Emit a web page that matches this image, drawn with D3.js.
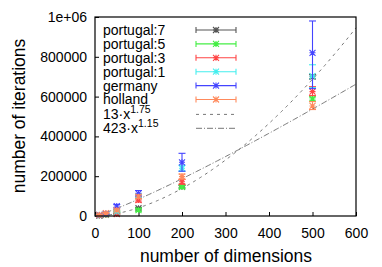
<!DOCTYPE html>
<html><head><meta charset="utf-8">
<script src="https://cdn.jsdelivr.net/npm/d3@7"></script>
<style>body{margin:0;background:#fff}svg{display:block}text{font-family:"Liberation Sans",Arial,sans-serif;fill:#000}</style>
</head><body><svg id="c" width="382" height="267"></svg>
<script>
const dims = [10, 25, 50, 100, 200, 500];
const seriesNames = ["portugal:7","portugal:5","portugal:3","portugal:1","germany","holland"];
const seriesColors = ["#555555","#44ee44","#ff4444","#44eeee","#4444ff","#ff8a5c"];
const p7Mean = [2000, 6000, 12000, 39000, 147000, 700000];
const p7Lo   = [1000, 4000, 9000, 35000, 141000, 690000];
const p7Hi   = [3000, 8000, 15000, 43000, 153000, 710000];
const p5Mean = [3000, 7000, 20000, 30000, 147000, 588000];
const p5Lo   = [2000, 5000, 16000, 24000, 140000, 578000];
const p5Hi   = [4000, 9000, 24000, 36000, 154000, 598000];
const p3Mean = [3000, 8000, 10000, 80000, 172000, 625000];
const p3Lo   = [2000, 6000, 6000, 70000, 160000, 605000];
const p3Hi   = [4000, 10000, 14000, 90000, 184000, 650000];
const p1Mean = [4000, 10000, 22000, 100000, 240000, 703000];
const p1Lo   = [2000, 6000, 18000, 92000, 225000, 645000];
const p1Hi   = [6000, 14000, 26000, 108000, 255000, 760000];
const deMean = [5000, 12000, 50000, 114000, 270000, 820000];
const deLo   = [3000, 9000, 42000, 100000, 225000, 640000];
const deHi   = [7000, 15000, 58000, 128000, 315000, 980000];
const nlMean = [6000, 15000, 30000, 97000, 198000, 553000];
const nlLo   = [4000, 12000, 25000, 88000, 185000, 535000];
const nlHi   = [8000, 18000, 35000, 106000, 211000, 575000];
const fitCoef = [13, 423];
const fitExp = [1.75, 1.15];
const fitCoefLabels = ["13", "423"];
const fitExpLabels = ["1.75", "1.15"];
const xTicks = [0,100,200,300,400,500,600];
const yTicks = [0,200000,400000,600000,800000,1000000];
const yTickLabels = ["0","200000","400000","600000","800000","1e+06"];

const means=[p7Mean,p5Mean,p3Mean,p1Mean,deMean,nlMean];
const los=[p7Lo,p5Lo,p3Lo,p1Lo,deLo,nlLo];
const his=[p7Hi,p5Hi,p3Hi,p1Hi,deHi,nlHi];

const L=95,R=356,T=17,B=216;
const svg=d3.select("#c");
const x=d3.scaleLinear().domain([0,600]).range([L,R]);
const y=d3.scaleLinear().domain([0,1000000]).range([B,T]);

const xa=svg.append("g").attr("transform",`translate(0,${B})`)
  .call(d3.axisBottom(x).tickValues(xTicks).tickSize(-4).tickPadding(10).tickFormat(d3.format("d")));
const ya=svg.append("g").attr("transform",`translate(${L},0)`)
  .call(d3.axisLeft(y).tickValues(yTicks).tickSize(-4).tickPadding(8).tickFormat((d,i)=>yTickLabels[i]));
[xa,ya].forEach(a=>{a.select(".domain").remove();a.selectAll("line").attr("stroke","#000");
  a.selectAll("text").attr("font-size",14).attr("fill","#111").attr("font-family","Liberation Sans, Arial, sans-serif");});
xa.selectAll("text").attr("dy","0.71em").attr("y",12);

const fitDash=["3,4","6,2,1,2"];
const xs=d3.range(0,601,3);
fitCoef.forEach((c,k)=>{
  svg.append("path").datum(xs)
    .attr("d",d3.line().x(d=>x(d)).y(d=>y(c*Math.pow(d,fitExp[k]))))
    .attr("fill","none").attr("stroke","#666").attr("stroke-width",0.9).attr("stroke-dasharray",fitDash[k]);
});

function marker(g,cx,cy,col){
  const s=3;
  g.append("path").attr("d",`M${cx-s},${cy}H${cx+s}M${cx},${cy-s}V${cy+s}M${cx-s},${cy-s}L${cx+s},${cy+s}M${cx-s},${cy+s}L${cx+s},${cy-s}`)
   .attr("stroke",col).attr("stroke-width",1.1).attr("fill","none");
}
seriesNames.forEach((n,k)=>{
  const g=svg.append("g");const col=seriesColors[k];
  dims.forEach((d,i)=>{
    const cx=x(d);
    g.append("line").attr("x1",cx).attr("x2",cx).attr("y1",y(los[k][i])).attr("y2",y(his[k][i])).attr("stroke",col).attr("stroke-width",1.1);
    [los[k][i],his[k][i]].forEach(v=>g.append("line").attr("x1",cx-3.5).attr("x2",cx+3.5).attr("y1",y(v)).attr("y2",y(v)).attr("stroke",col).attr("stroke-width",1.1));
    marker(g,cx,y(means[k][i]),col);
  });
});

svg.append("rect").attr("x",L).attr("y",T).attr("width",R-L).attr("height",B-T).attr("fill","none").attr("stroke","#000").attr("stroke-width",1.2);

const lg=svg.append("g");
const rowY=i=>30+i*13.9;
seriesNames.forEach((n,k)=>{
  const yy=rowY(k), col=seriesColors[k];
  lg.append("text").attr("x",103).attr("y",yy).attr("dy","0.35em").attr("font-size",14).text(n);
  lg.append("line").attr("x1",196).attr("x2",236).attr("y1",yy).attr("y2",yy).attr("stroke",col).attr("stroke-width",1.1);
  [196,236].forEach(xx=>lg.append("line").attr("x1",xx).attr("x2",xx).attr("y1",yy-3).attr("y2",yy+3).attr("stroke",col).attr("stroke-width",1.1));
  marker(lg,216,yy,col);
});
fitCoef.forEach((c,k)=>{
  const yy=rowY(6+k)+1;
  const t=lg.append("text").attr("x",103).attr("y",yy).attr("dy","0.35em").attr("font-size",14);
  t.append("tspan").text(fitCoefLabels[k]+"·x");
  t.append("tspan").attr("font-size",10.5).attr("dy","-0.6em").text(fitExpLabels[k]);
  lg.append("line").attr("x1",196).attr("x2",236).attr("y1",yy).attr("y2",yy).attr("stroke","#666").attr("stroke-width",0.9).attr("stroke-dasharray",fitDash[k]);
});

svg.append("text").attr("x",226).attr("y",262).attr("text-anchor","middle").attr("font-size",17.5).text("number of dimensions");
svg.append("text").attr("transform","translate(25,116) rotate(-90)").attr("text-anchor","middle").attr("font-size",17.5).text("number of iterations");
</script></body></html>
